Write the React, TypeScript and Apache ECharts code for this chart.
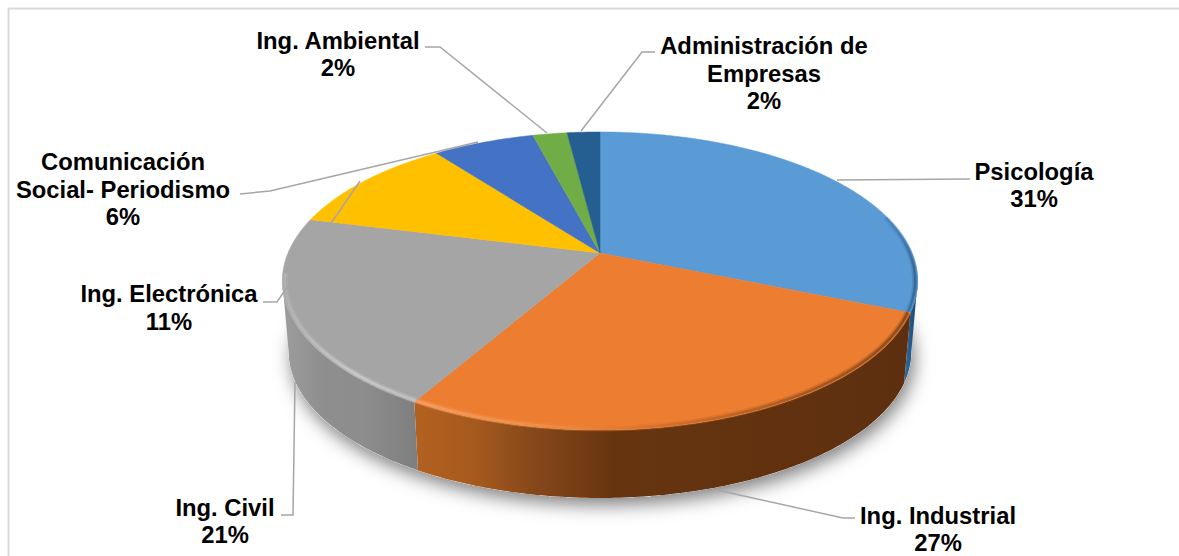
import React, { useEffect, useRef } from "react";
import * as echarts from "echarts";

const categories = [
  "Psicología",
  "Ing. Industrial",
  "Ing. Civil",
  "Ing. Electrónica",
  "Comunicación\nSocial- Periodismo",
  "Ing. Ambiental",
  "Administración de\nEmpresas",
];
const values = [31.3, 27.0, 20.6, 10.8, 6.2, 2.1, 2.0];
const topColors = ["#5b9bd5", "#ed7d31", "#a5a5a5", "#ffc000", "#4472c4", "#70ad47", "#255e91"];

// layout only: label block centre and leader polyline for each slice
const labelCentres = [
  [1034, 185],
  [938, 529],
  [225, 521],
  [169, 307.5],
  [123, 189],
  [338, 54],
  [764, 73],
];
const leaders = [
  [[837, 180], [970, 179]],
  [[717, 490], [843, 518], [855, 518]],
  [[295, 382], [293, 515], [281, 515]],
  [[360, 181], [277, 302], [263, 302]],
  [[478, 142], [270, 191], [240, 194]],
  [[547, 133], [440, 47], [425, 47]],
  [[581, 131], [642, 52], [655, 52]],
];

// perspective of the pie disc
const CX = 600;
const APEX_Y = 253;
const A = 312;
const B = 143.8;
const K = 0.188;
const LOW_SCALE = 0.98;
const LOW_Y = 324.4;
const FRONT_FROM = 100.8;
const FRONT_TO = 259.2;

const total = values.reduce((s, v) => s + v, 0);
const starts: number[] = [];
values.reduce((acc, v, i) => {
  starts[i] = (acc / total) * 360;
  return acc + v;
}, 0);
const endOf = (i: number) => starts[i] + (values[i] / total) * 360;

function topPoint(deg: number, inset = 1): number[] {
  const t = (deg * Math.PI) / 180;
  const s = Math.sin(t) * inset;
  const c = -Math.cos(t) * inset;
  const d = 1 - K * c;
  return [CX + (A * s) / d, APEX_Y + (B * c) / d];
}
function lowPoint(deg: number): number[] {
  const t = (deg * Math.PI) / 180;
  const s = Math.sin(t);
  const c = -Math.cos(t);
  const d = 1 - K * c;
  return [CX + (LOW_SCALE * A * s) / d, LOW_Y + (LOW_SCALE * B * c) / d];
}
function arc(from: number, to: number, fn: (d: number) => number[]): number[][] {
  const n = Math.max(2, Math.ceil(Math.abs(to - from) / 0.75));
  const out: number[][] = [];
  for (let i = 0; i <= n; i++) out.push(fn(from + ((to - from) * i) / n));
  return out;
}
const hGrad = (x0: number, x1: number, stops: [number, string][]) =>
  new echarts.graphic.LinearGradient(
    x0, 0, x1, 0,
    stops.map(([offset, color]) => ({ offset, color })),
    true,
  );

const wallFills = [
  () => hGrad(905, 918, [[0, "#2f6ba3"], [1, "#1c4266"]]),
  () => hGrad(415, 910, [[0, "#b4611f"], [0.12, "#a65a1e"], [0.24, "#86481a"], [0.4, "#663510"], [1, "#5e2f0f"]]),
  () => hGrad(285, 415, [[0, "#9c9c9c"], [0.3, "#8e8e8e"], [0.6, "#8d8d8d"], [1, "#7f7f7f"]]),
];
const rimStrokes = [
  () => hGrad(860, 918, [[0, "rgba(50,100,150,0)"], [0.7, "rgba(50,100,150,0.55)"], [1, "#2b5a85"]]),
  () => hGrad(418, 905, [[0, "#f6a468"], [0.25, "#f0914f"], [0.45, "#d9742c"], [0.7, "#a9591f"], [1, "#7a4015"]]),
  () => hGrad(285, 420, [[0, "#b4b4b4"], [0.5, "#cfcfcf"], [1, "#c4c4c4"]]),
];
const rimRanges = [
  [75, 112.7],
  [112.7, 209.9],
  [209.9, 262],
];

function renderDisc(params: any) {
  const i = params.dataIndex;
  const a = starts[i];
  const b = endOf(i);
  const children: any[] = [];

  if (i === 0) {
    const whole = arc(0, 360, lowPoint);
    children.push({
      type: "polygon",
      shape: { points: whole },
      style: {
        fill: "#ffffff",
        shadowBlur: 18,
        shadowColor: "rgba(0,0,0,0.5)",
        shadowOffsetX: 3,
        shadowOffsetY: 7,
      },
    });
  }
  const wa = Math.max(a, FRONT_FROM);
  const wb = Math.min(b, FRONT_TO);
  if (wb > wa && wallFills[i]) {
    const pts = [...arc(wa, wb, (d) => topPoint(d)), ...arc(wb, wa, lowPoint)];
    children.push({
      type: "polygon",
      shape: { points: pts },
      style: { fill: wallFills[i](), stroke: null },
    });
  }
  return { type: "group", children };
}

function renderTop(params: any) {
  const i = params.dataIndex;
  const a = starts[i];
  const b = endOf(i);
  const pts = [topPoint(0, 0), ...arc(a, b, (d) => topPoint(d))];
  const children: any[] = [
    {
      type: "polygon",
      shape: { points: pts },
      style: { fill: topColors[i], stroke: topColors[i], lineWidth: 0.5 },
    },
  ];
  if (rimStrokes[i]) {
    const [ra, rb] = rimRanges[i];
    const rim = arc(ra, rb, (d) => topPoint(d, 0.992));
    children.push({
      type: "polyline",
      shape: { points: rim },
      style: { fill: null, stroke: rimStrokes[i](), lineWidth: 6, opacity: 0.3 },
    });
    children.push({
      type: "polyline",
      shape: { points: rim },
      style: { fill: null, stroke: rimStrokes[i](), lineWidth: 2.5, opacity: 0.75 },
    });
  }
  return { type: "group", children };
}

function renderLabel(params: any) {
  const i = params.dataIndex;
  const [lx, ly] = labelCentres[i];
  return {
    type: "group",
    children: [
      {
        type: "polyline",
        shape: { points: leaders[i] },
        style: { fill: null, stroke: "#a6a6a6", lineWidth: 1.5 },
      },
      {
        type: "text",
        style: {
          text: `${categories[i]}\n${Math.round(values[i])}%`,
          x: lx,
          y: ly,
          align: "center",
          verticalAlign: "middle",
          textAlign: "center",
          textVerticalAlign: "middle",
          fill: "#000000",
          fontFamily: '"Liberation Sans", Arial, sans-serif',
          fontWeight: "bold",
          fontSize: 23.8,
          lineHeight: 27.6,
        },
      },
    ],
  };
}

export default function App() {
  const ref = useRef<HTMLDivElement>(null);
  useEffect(() => {
    document.body.style.margin = "0";
    const chart = echarts.init(ref.current!, null, { renderer: "svg" });
    const data = categories.map((name, i) => ({ name, value: values[i] }));
    chart.setOption({
      animation: false,
      backgroundColor: "#ffffff",
      graphic: [
        {
          type: "polyline",
          z: 0,
          shape: { points: [[8.5, 556], [8.5, 8.5], [1179, 8.5]] },
          style: { fill: null, stroke: "#d9d9d9", lineWidth: 2 },
        },
      ],
      series: [
        { type: "custom", name: "Paredes", coordinateSystem: "none", renderItem: renderDisc, data, silent: true, z: 2 },
        { type: "custom", name: "Carreras", coordinateSystem: "none", renderItem: renderTop, data, silent: true, z: 3 },
        { type: "custom", name: "Etiquetas", coordinateSystem: "none", renderItem: renderLabel, data, silent: true, z: 4 },
      ],
    });
    return () => chart.dispose();
  }, []);
  return <div ref={ref} style={{ width: 1179, height: 556 }} />;
}
